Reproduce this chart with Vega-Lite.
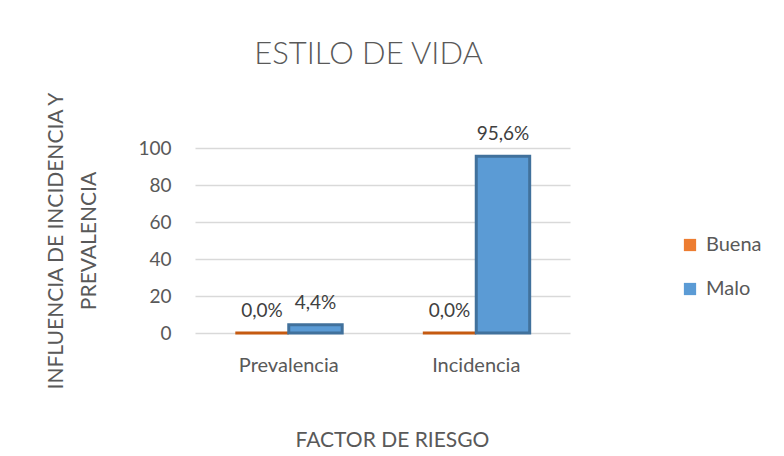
{
  "$schema": "https://vega.github.io/schema/vega-lite/v6.json",
  "width": 375,
  "height": 185,
  "autosize": {"type": "none"},
  "padding": {"left": 195, "top": 148, "right": 214, "bottom": 123},
  "background": "white",
  "title": {
    "text": "ESTILO DE VIDA",
    "fontSize": 31,
    "font": "Lato",
    "fontWeight": 300,
    "color": "#595959",
    "anchor": "middle",
    "dx": -14,
    "offset": 20
  },
  "data": {
    "values": [
      {"factor": "Prevalencia", "estilo": "Buena", "valor": 0.0},
      {"factor": "Prevalencia", "estilo": "Malo", "valor": 4.4},
      {"factor": "Incidencia", "estilo": "Buena", "valor": 0.0},
      {"factor": "Incidencia", "estilo": "Malo", "valor": 95.6}
    ]
  },
  "transform": [
    {"calculate": "replace(format(datum.valor, '.1f'), '.', ',') + '%'", "as": "etiqueta"}
  ],
  "encoding": {
    "x": {
      "field": "factor",
      "type": "nominal",
      "sort": ["Prevalencia", "Incidencia"],
      "scale": {"paddingInner": 0.43, "paddingOuter": 0.215},
      "axis": {
        "title": "FACTOR DE RIESGO",
        "titleX": 197,
        "labelAngle": 0,
        "labelFontSize": 20,
        "labelFont": "Lato",
        "labelColor": "#595959",
        "labelPadding": 22,
        "domain": false,
        "ticks": false,
        "titleFont": "Lato",
        "titleFontSize": 21,
        "titleFontWeight": "normal",
        "titleColor": "#595959",
        "titlePadding": 54
      }
    },
    "xOffset": {"field": "estilo", "type": "nominal", "sort": ["Buena", "Malo"]},
    "y": {
      "field": "valor",
      "type": "quantitative",
      "scale": {"domain": [0, 100]},
      "axis": {
        "title": ["INFLUENCIA DE INCIDENCIA Y", "PREVALENCIA"],
        "values": [0, 20, 40, 60, 80, 100],
        "labelFontSize": 19,
        "labelFont": "Lato",
        "labelColor": "#595959",
        "labelPadding": 24,
        "domain": false,
        "ticks": false,
        "gridColor": "#d9d9d9",
        "gridWidth": 1.5,
        "titleFont": "Lato",
        "titleFontSize": 21,
        "titleFontWeight": "normal",
        "titleColor": "#595959",
        "titleLineHeight": 33,
        "titlePadding": 38
      }
    }
  },
  "layer": [
    {
      "mark": {"type": "bar", "strokeWidth": 3},
      "encoding": {
        "color": {
          "field": "estilo",
          "type": "nominal",
          "sort": ["Buena", "Malo"],
          "scale": {"domain": ["Buena", "Malo"], "range": ["#ED7D31", "#5B9BD5"]},
          "legend": {
            "title": null,
            "orient": "none",
            "legendX": 485,
            "legendY": 87,
            "symbolType": "square",
            "symbolSize": 150,
            "symbolStrokeWidth": 0,
            "labelFont": "Lato",
            "labelFontSize": 20,
            "labelColor": "#595959",
            "rowPadding": 24,
            "labelOffset": 6
          }
        },
        "stroke": {
          "field": "estilo",
          "type": "nominal",
          "scale": {"domain": ["Buena", "Malo"], "range": ["#C55A11", "#41719C"]},
          "legend": null
        }
      }
    },
    {
      "mark": {"type": "text", "dy": -12, "font": "Lato", "fontSize": 19, "color": "#404040", "baseline": "bottom"},
      "encoding": {"text": {"field": "etiqueta"}}
    }
  ],
  "config": {"view": {"stroke": null}}
}
